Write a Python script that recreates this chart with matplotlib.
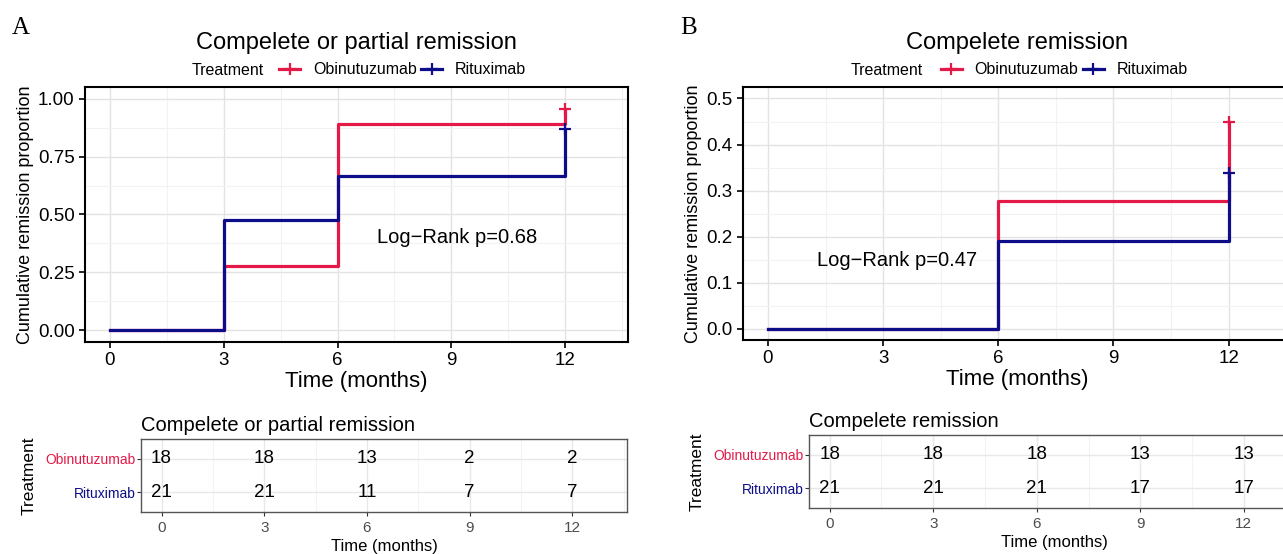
import numpy as np
import matplotlib.pyplot as plt
from matplotlib.lines import Line2D
from matplotlib.ticker import MultipleLocator

plt.rcParams['font.family'] = ['Liberation Sans', 'DejaVu Sans']

# datos de las curvas (proporcion acumulada de remision)
tiempos = [0, 3, 6, 12]
obi_a = [0, 0.278, 0.889, 0.955]
rit_a = [0, 0.476, 0.667, 0.868]
obi_b = [0, 0, 0.278, 0.45]
rit_b = [0, 0, 0.19, 0.338]

# tablas de numero en riesgo
tiempos_tabla = [0, 3, 6, 9, 12]
riesgo_obi_a = [18, 18, 13, 2, 2]
riesgo_rit_a = [21, 21, 11, 7, 7]
riesgo_obi_b = [18, 18, 18, 13, 13]
riesgo_rit_b = [21, 21, 21, 17, 17]

grupos = ['Obinutuzumab', 'Rituximab']
rojo = '#E31A48'
azul = '#0D0D8A'

W, H = 1283, 554
fig = plt.figure(figsize=(W / 100, H / 100), dpi=100)


def caja(x0, y0, x1, y1):
    # convierte pixeles a fracciones de la figura
    return [x0 / W, 1 - y1 / H, (x1 - x0) / W, (y1 - y0) / H]


def curvas(pos, obi, rit, ymax, paso, fmt, titulo, texto, texto_xy):
    ax = fig.add_axes(pos)
    ax.set_xlim(-0.65, 13.65)
    ax.set_ylim(-0.05 * ymax, 1.05 * ymax)
    ax.xaxis.set_major_locator(MultipleLocator(3))
    ax.xaxis.set_minor_locator(MultipleLocator(1.5))
    ax.yaxis.set_major_locator(MultipleLocator(paso))
    ax.yaxis.set_minor_locator(MultipleLocator(paso / 2))
    ax.grid(which='major', color='#E3E3E3', lw=1.0)
    ax.grid(which='minor', color='#F2F2F2', lw=0.8)
    ax.set_axisbelow(True)
    ax.step(tiempos, obi, where='post', color=rojo, lw=2.3)
    ax.step(tiempos, rit, where='post', color=azul, lw=2.3)
    ax.plot(tiempos[-1], obi[-1], '+', color=rojo, ms=9, mew=1.6)
    ax.plot(tiempos[-1], rit[-1], '+', color=azul, ms=9, mew=1.6)
    ax.yaxis.set_major_formatter(fmt)
    ax.tick_params(which='major', labelsize=13.5, length=4, width=1.2, color='black', labelcolor='black')
    ax.tick_params(which='minor', length=0)
    for s in ax.spines.values():
        s.set_linewidth(1.5)
    ax.set_xlabel('Time (months)', fontsize=16, labelpad=1)
    ax.set_ylabel('Cumulative remission proportion', fontsize=13, labelpad=3)
    ax.text(texto_xy[0], texto_xy[1], texto, fontsize=14.5, ha='center', va='center')
    ax.set_title(titulo, fontsize=17, pad=27)
    handles = [Line2D([], [], color=rojo, lw=2.3, marker='+', ms=9, mew=1.6),
               Line2D([], [], color=azul, lw=2.3, marker='+', ms=9, mew=1.6)]
    ax.legend(handles, grupos, loc='lower center', bbox_to_anchor=(0.585, 1.0),
              ncol=2, frameon=False, fontsize=11.5, handlelength=1.3,
              handletextpad=0.8, columnspacing=0.3, borderaxespad=0.2)
    ax.text(0.262, 1.065, 'Treatment', transform=ax.transAxes, fontsize=11.5, ha='center', va='center')
    return ax


def tabla(pos, obi, rit, titulo):
    ax = fig.add_axes(pos)
    ax.set_xlim(-0.6, 13.6)
    ax.set_ylim(0.4, 2.6)
    ax.set_xticks(tiempos_tabla)
    ax.xaxis.set_minor_locator(MultipleLocator(1.5))
    ax.set_yticks([2, 1])
    ax.set_yticklabels(grupos)
    for lab, c in zip(ax.get_yticklabels(), [rojo, azul]):
        lab.set_color(c)
    ax.grid(which='major', color='#E8E8E8', lw=1.0)
    ax.grid(which='minor', axis='x', color='#F3F3F3', lw=0.8)
    ax.set_axisbelow(True)
    for t, a, b in zip(tiempos_tabla, obi, rit):
        ax.text(t, 2, str(a), fontsize=13.5, ha='center', va='center')
        ax.text(t, 1, str(b), fontsize=13.5, ha='center', va='center')
    ax.tick_params(axis='x', labelsize=11, labelcolor='#4D4D4D', color='#333333', length=3)
    ax.tick_params(axis='y', labelsize=10, length=3, color='#333333', pad=1)
    ax.tick_params(which='minor', length=0)
    for s in ax.spines.values():
        s.set_color('#555555')
        s.set_linewidth(1.0)
    ax.set_xlabel('Time (months)', fontsize=12, labelpad=3)
    ax.set_ylabel('Treatment', fontsize=12.5, labelpad=6)
    ax.set_title(titulo, fontsize=14.5, loc='left', pad=6)
    return ax


fmt_a = lambda v, p: f'{v:.2f}'
fmt_b = lambda v, p: f'{v:.1f}'

curvas(caja(85, 87, 628, 342), obi_a, rit_a, 1.0, 0.25, fmt_a,
       'Compelete or partial remission', 'Log\u2212Rank p=0.68', (9.15, 0.40))
curvas(caja(743, 87, 743 + 549, 340), obi_b, rit_b, 0.5, 0.1, fmt_b,
       'Compelete remission', 'Log\u2212Rank p=0.47', (3.35, 0.148))

tabla(caja(141, 439, 627, 512), riesgo_obi_a, riesgo_rit_a, 'Compelete or partial remission')
tabla(caja(809, 435, 809 + 490, 508), riesgo_obi_b, riesgo_rit_b, 'Compelete remission')

fig.text(12 / W, 1 - 28 / H, 'A', fontsize=18, family='Liberation Serif', va='center')
fig.text(680 / W, 1 - 28 / H, 'B', fontsize=18, family='Liberation Serif', va='center')

fig.savefig('out.png', dpi=100)
